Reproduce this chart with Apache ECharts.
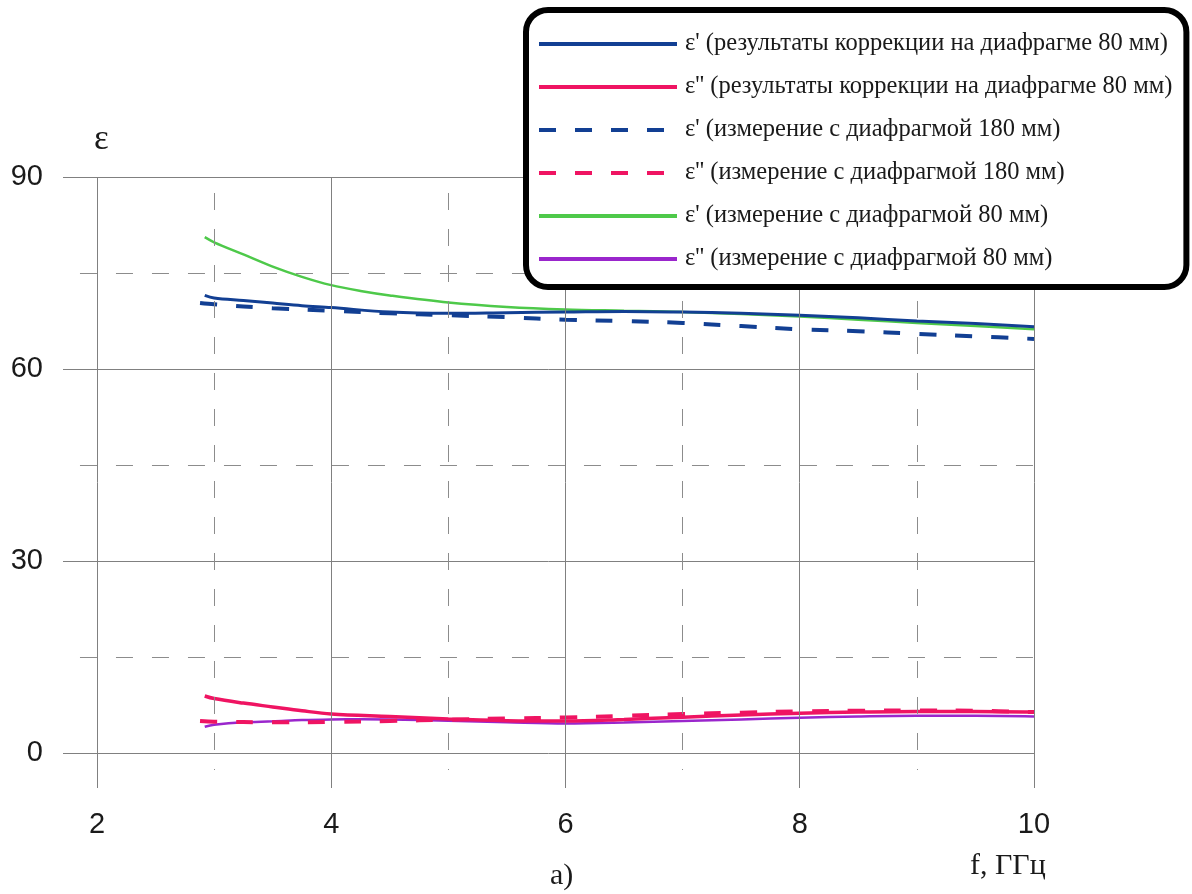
<!DOCTYPE html>
<html>
<head>
<meta charset="utf-8">
<script src="https://cdn.jsdelivr.net/npm/echarts@6/dist/echarts.min.js"></script>
<style>
  html, body { margin: 0; padding: 0; background: #fff; }
  #chart { width: 1192px; height: 894px; }
</style>
</head>
<body>
<div id="chart"></div>
<script>
// Frequency grid (GHz) and permittivity readings for each curve
const freqCorr   = [2.92, 3.0, 3.25, 3.5, 3.75, 4.0, 4.5, 5.0, 5.5, 6.0, 6.5, 7.0, 7.5, 8.0, 8.5, 9.0, 9.5, 10.0];
const epsReCorr  = [71.5, 71.1, 70.7, 70.3, 69.9, 69.6, 68.9, 68.7, 68.8, 68.9, 69.0, 68.9, 68.7, 68.4, 68.0, 67.5, 67.1, 66.6];
const epsImCorr  = [8.9, 8.5, 7.8, 7.2, 6.6, 6.1, 5.7, 5.3, 5.05, 5.0, 5.25, 5.6, 5.95, 6.2, 6.4, 6.5, 6.5, 6.4];

const freq180    = [2.88, 3.0, 3.5, 4.0, 4.5, 5.0, 5.5, 6.0, 6.5, 7.0, 7.5, 8.0, 8.5, 9.0, 9.5, 10.0];
const epsRe180   = [70.3, 70.1, 69.5, 69.1, 68.7, 68.4, 68.1, 67.7, 67.5, 67.2, 66.7, 66.2, 65.9, 65.5, 65.1, 64.7];
const epsIm180   = [5.0, 4.9, 4.8, 4.85, 5.0, 5.2, 5.4, 5.55, 5.8, 6.1, 6.3, 6.5, 6.6, 6.65, 6.6, 6.4];

const freq80     = [2.92, 3.0, 3.25, 3.5, 3.75, 4.0, 4.25, 4.5, 5.0, 5.5, 6.0, 6.5, 7.0, 7.5, 8.0, 8.5, 9.0, 9.5, 10.0];
const epsRe80    = [80.6, 79.8, 77.9, 76.0, 74.4, 73.1, 72.2, 71.5, 70.4, 69.7, 69.3, 69.1, 68.9, 68.6, 68.2, 67.7, 67.2, 66.7, 66.2];
const epsIm80    = [4.1, 4.4, 4.8, 4.95, 5.15, 5.25, 5.28, 5.25, 5.05, 4.8, 4.6, 4.75, 5.0, 5.25, 5.5, 5.7, 5.8, 5.8, 5.7];

// Axis labels and grid positions
const xTicks   = [2, 4, 6, 8, 10];
const xDashed  = [3, 5, 7, 9];
const yTicks   = [0, 30, 60, 90];
const yDashed  = [15, 45, 75];

const names = [
  "ε' (результаты коррекции на диафрагме 80 мм)",
  "ε'' (результаты коррекции на диафрагме 80 мм)",
  "ε' (измерение с диафрагмой 180 мм)",
  "ε'' (измерение с диафрагмой 180 мм)",
  "ε' (измерение с диафрагмой 80 мм)",
  "ε'' (измерение с диафрагмой 80 мм)"
];

const BLUE = '#123f93', PINK = '#ef1462', GREEN = '#4ec94a', PURPLE = '#9a26cc';
const X_MIN = 1.71, X_MAX = 10, Y_MIN = -5.47, Y_MAX = 90;

const pairs = (xs, ys) => xs.map((x, i) => [x, ys[i]]);

// Grid lines: solid at labelled values, dashed halfway between
const solidStyle  = { color: '#808080', width: 1, type: 'solid' };
const dashedStyle = { color: '#8c8c8c', width: 1, type: [17, 19] };
const gridLines = [];
yTicks.forEach(v => gridLines.push([{ coord: [X_MIN, v], lineStyle: solidStyle }, { coord: [X_MAX, v] }]));
xTicks.forEach(v => gridLines.push([{ coord: [v, Y_MAX], lineStyle: solidStyle }, { coord: [v, Y_MIN] }]));
yDashed.forEach(v => gridLines.push([{ coord: [1.855, v], lineStyle: dashedStyle }, { coord: [X_MAX, v] }]));
xDashed.forEach(v => gridLines.push([{ coord: [v, 87.5], lineStyle: dashedStyle }, { coord: [v, -2.66] }]));

function curve(name, xs, ys, color, width, type, z) {
  return {
    name, type: 'line', data: pairs(xs, ys), smooth: 0.35, symbol: 'none', z,
    lineStyle: { color, width, type }, itemStyle: { color }
  };
}

const chart = echarts.init(document.getElementById('chart'), null, { renderer: 'canvas' });
chart.setOption({
  backgroundColor: '#ffffff',
  animation: false,
  grid: { left: 63, right: 158, top: 177, bottom: 106 },
  xAxis: {
    type: 'value', min: X_MIN, max: X_MAX,
    axisLine: { show: false }, axisTick: { show: false }, splitLine: { show: false },
    axisLabel: { customValues: xTicks, margin: 22, color: '#1a1a1a', fontSize: 29, fontFamily: 'Liberation Sans' }
  },
  yAxis: {
    type: 'value', min: Y_MIN, max: Y_MAX,
    axisLine: { show: false }, axisTick: { show: false }, splitLine: { show: false },
    axisLabel: { customValues: yTicks, margin: 20, color: '#1a1a1a', fontSize: 29, fontFamily: 'Liberation Sans' }
  },
  title: [
    { text: 'ε', left: 94, top: 122, padding: 0,
      textStyle: { fontFamily: 'Liberation Serif', fontSize: 35, lineHeight: 35, fontWeight: 'normal', color: '#1a1a1a' } },
    { text: 'f, ГГц', left: 970, top: 851, padding: 0,
      textStyle: { fontFamily: 'Liberation Serif', fontSize: 30, lineHeight: 30, fontWeight: 'normal', color: '#1a1a1a' } },
    { text: 'а)', left: 550, top: 861, padding: 0,
      textStyle: { fontFamily: 'Liberation Serif', fontSize: 30, lineHeight: 30, fontWeight: 'normal', color: '#1a1a1a' } }
  ],
  legend: {
    data: names,
    orient: 'vertical',
    left: 526, top: 10,
    padding: [19, 14, 13, 11],
    itemGap: 13,
    itemWidth: 138, itemHeight: 14,
    selectedMode: false,
    backgroundColor: '#ffffff',
    borderColor: '#000000', borderWidth: 6, borderRadius: 22,
    itemStyle: { opacity: 0, borderWidth: 0 },
    lineStyle: { width: 4 },
    textStyle: { fontFamily: 'Liberation Serif', fontSize: 24.5, lineHeight: 30, color: '#1a1a1a', padding: [0, 0, 0, 3] },
    z: 10
  },
  series: [
    { type: 'line', data: [], silent: true, z: 1,
      markLine: { silent: true, symbol: 'none', label: { show: false }, animation: false, data: gridLines } },
    curve(names[4], freq80, epsRe80, GREEN, 2.5, 'solid', 2),
    curve(names[5], freq80, epsIm80, PURPLE, 2.5, 'solid', 2),
    curve(names[2], freq180, epsRe180, BLUE, 4, [17, 19], 3),
    curve(names[3], freq180, epsIm180, PINK, 4, [17, 19], 3),
    curve(names[0], freqCorr, epsReCorr, BLUE, 3, 'solid', 4),
    curve(names[1], freqCorr, epsImCorr, PINK, 3.5, 'solid', 4)
  ]
});
</script>
</body>
</html>
